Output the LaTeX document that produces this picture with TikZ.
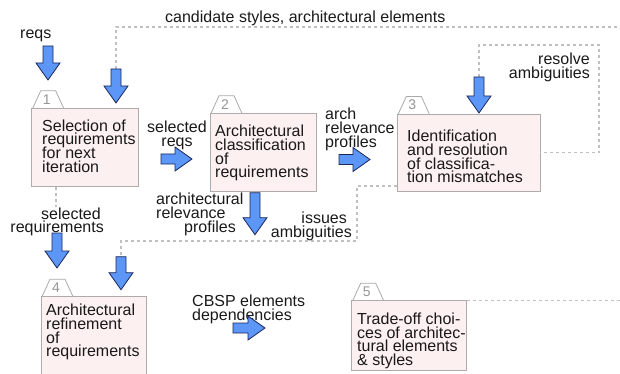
\documentclass[tikz,border=0pt]{standalone}
\usepackage{fontspec}
\setmainfont{Liberation Sans}
\usetikzlibrary{calc}
\definecolor{boxfill}{RGB}{253,240,240}
\definecolor{boxline}{RGB}{172,172,172}
\definecolor{tabline}{RGB}{170,170,170}
\definecolor{tabnum}{RGB}{150,150,150}
\definecolor{dashgray}{RGB}{192,192,192}
\definecolor{arrowblue}{RGB}{92,150,246}
\definecolor{arrowline}{RGB}{28,38,90}
\definecolor{txt}{RGB}{25,25,25}
\tikzset{
  stage/.style={draw=boxline, fill=boxfill, line width=0.8pt, anchor=north west,
    inner sep=0pt, outer sep=0pt},
  boxtext/.style={text=txt, inner sep=0pt, align=left, anchor=north west},
  lbl/.style={text=txt, inner sep=0pt},
  flow/.style={draw=dashgray, line width=1.1pt, dash pattern=on 3pt off 3pt},
  blockarrow/.style={draw=arrowline, fill=arrowblue, line width=0.8pt, line join=miter},
  pics/tab/.style={code={
    \draw[draw=tabline, fill=white, line width=0.8pt]
      (1,0) -- (9,-17.5) -- (24,-17.5) -- (32,0);
    \node[text=tabnum, inner sep=0pt, font=\fontsize{14}{14}\selectfont] at (15,-9) {#1};
  }},
  pics/barrow/.style={code={
    \draw[blockarrow] (0,-5) -- ({#1-17},-5) -- ({#1-17},-12) -- (#1,0)
      -- ({#1-17},12) -- ({#1-17},5) -- (0,5) -- cycle;
  }},
}
\begin{document}
\begin{tikzpicture}[x=1pt, y=-1pt,
  font={\fontsize{16}{13.7}\selectfont\lineskiplimit=-20pt}]
\useasboundingbox (0,0) rectangle (620,374);

% process stages
\pic at (31.7,108.3) {tab=1};
\node[stage, minimum width=106.6pt, minimum height=78.4pt] (b1) at (31.7,108.3) {};
\pic at (210,113.3) {tab=2};
\node[stage, minimum width=106.7pt, minimum height=78.4pt] (b2) at (210,113.3) {};
\pic at (397.3,114) {tab=3};
\node[stage, minimum width=142.7pt, minimum height=77pt] (b3) at (397.3,114) {};
\pic at (41,296.7) {tab=4};
\node[stage, minimum width=105.7pt, minimum height=85pt] (b4) at (41,296.7) {};
\pic at (351.7,300.7) {tab=5};
\node[stage, minimum width=115pt, minimum height=69.3pt] (b5) at (351.7,300.7) {};

\node[boxtext] (t1) at (42,119.5) {Selection of\\requirements\\for next\\iteration};
\node[boxtext] (t2) at (215,125) {Architectural\\classification\\of\\requirements};
\node[boxtext] (t3) at (407,130) {Identification\\and resolution\\of classifica-\\tion mismatches};
\node[boxtext] (t4) at (46,304) {Architectural\\refinement\\of\\requirements};
\node[boxtext] (t5) at (357,312.7) {Trade-off choi-\\ces of architec-\\tural elements\\\& styles};

% arrow tails
\coordinate (a1) at (48,46);
\coordinate (a2) at (116,69);
\coordinate (a3) at (161,159);
\coordinate (a4) at (339,159.5);
\coordinate (a5) at (479,77);
\coordinate (a6) at (255,192.7);
\coordinate (a7) at (57,233);
\coordinate (a8) at (121,256.7);
\coordinate (a9) at (233,328);

% free ends of the dotted feedback lines
\coordinate (topend) at (620,27);
\coordinate (loopcorner) at (599,45);
\coordinate (rightend) at (620,300.7);
\coordinate (s1) at ($(b1.south west)+(24.3,0)$);
\coordinate (s3) at ($(b3.south west)+(0,-5)$);

% dotted feedback lines
\draw[flow] (a2) |- (topend);
\draw[flow] (a5) |- (loopcorner) |- (b3.east);
\draw[flow] (s3) -- (357,186) -- (357,241) -- (a8 |- 0,241) -- (a8);
\draw[flow] (s1) -- (s1 |- a7);
\draw[flow] (b5.north east) -- (rightend);

% labels
\node[lbl, anchor=base west] (reqs) at (20,39) {reqs};
\node[lbl, anchor=base west] (cand) at (165,23) {candidate styles, architectural elements};
\node[lbl, align=center, anchor=north] (selreqs) at (177,121) {selected\\reqs};
\node[lbl, align=left, anchor=north west] (arp) at (325,108) {arch\\relevance\\profiles};
\node[lbl, align=right, anchor=north east] (res) at (590,52.7) {resolve\\ambiguities};
\node[lbl, align=left, anchor=north west] (arp2) at (156,193) {architectural\\relevance\\\hspace*{28pt}profiles};
\node[lbl, align=right, anchor=north east] (iss) at (352,212) {issues\hspace*{5pt}\\ambiguities};
\node[lbl, align=right, anchor=north east, fill=white, inner sep=1pt] (selreq) at (105,206.3) {selected\hspace*{3pt}\\requirements};
\node[lbl, align=left, anchor=north west] (cbsp) at (192,295) {CBSP elements\\dependencies};

% block arrows
\pic[rotate=-90] at (a1) {barrow=34};
\pic[rotate=-90] at (a2) {barrow=34};
\pic at (a3) {barrow=31};
\pic at (a4) {barrow=31};
\pic[rotate=-90] at (a5) {barrow=36};
\pic[rotate=-90] at (a6) {barrow=42};
\pic[rotate=-90] at (a7) {barrow=35};
\pic[rotate=-90] at (a8) {barrow=33};
\pic at (a9) {barrow=32};
\end{tikzpicture}
\end{document}
